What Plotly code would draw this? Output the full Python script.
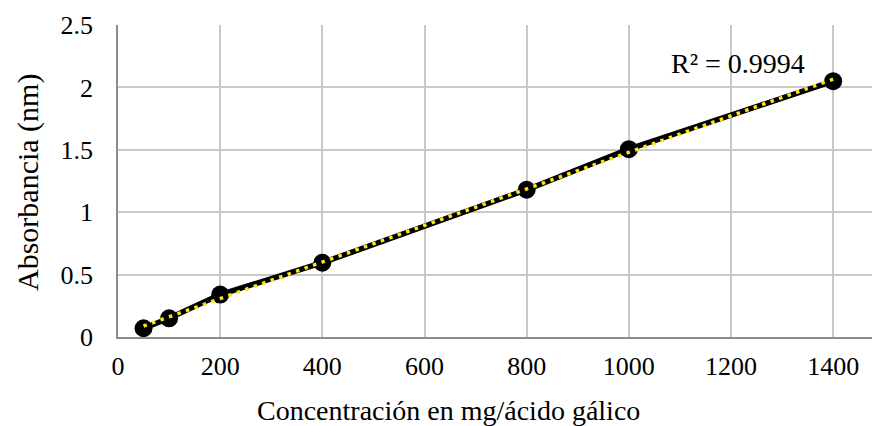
import numpy as np
import plotly.graph_objects as go

concentracion = [50, 100, 200, 400, 800, 1000, 1400]
absorbancia = [0.07, 0.15, 0.34, 0.595, 1.18, 1.505, 2.05]
x_ticks = [0, 200, 400, 600, 800, 1000, 1200, 1400]
y_ticks = [0, 0.5, 1, 1.5, 2, 2.5]
y_tick_text = ["0", "0.5", "1", "1.5", "2", "2.5"]
r2_text = "R² = 0.9994"
x_title = "Concentración en mg/ácido gálico"
y_title = "Absorbancia (nm)"

slope, intercept = np.polyfit(concentracion, absorbancia, 1)
trend_x = [min(concentracion), max(concentracion)]
trend_y = [slope * v + intercept for v in trend_x]

FONT = "Liberation Serif, Times New Roman, serif"

# plot area in pixels: x 118..872, y 25..337
PL, PR, PT, PB = 118, 872, 25, 337

def px_to_paper(px, py):
    return (px - PL) / (PR - PL), (PB - py) / (PB - PT)

fig = go.Figure()
fig.add_trace(go.Scatter(
    x=concentracion, y=absorbancia, mode="lines+markers",
    line=dict(color="black", width=5.5),
    marker=dict(color="black", size=18),
    showlegend=False, cliponaxis=False,
))
fig.add_trace(go.Scatter(
    x=trend_x, y=trend_y, mode="lines",
    line=dict(color="#FFE21A", width=3.5, dash="3.5px,5.5px"),
    showlegend=False, cliponaxis=False,
))

fig.add_annotation(
    x=1214, y=2.195, xref="x", yref="y", text=r2_text, showarrow=False,
    font=dict(family=FONT, size=28, color="black"),
)
xt_x, xt_y = px_to_paper(448, 410)
fig.add_annotation(
    x=xt_x, y=xt_y, xref="paper", yref="paper", text=x_title,
    showarrow=False, xanchor="center", yanchor="middle",
    font=dict(family=FONT, size=28, color="black"),
)
yt_x, yt_y = px_to_paper(28, 183)
fig.add_annotation(
    x=yt_x, y=yt_y, xref="paper", yref="paper", text=y_title,
    showarrow=False, xanchor="center", yanchor="middle", textangle=-90,
    font=dict(family=FONT, size=30, color="black"),
)

fig.update_layout(
    width=872, height=426,
    margin=dict(l=PL, r=872 - PR, t=PT, b=426 - PB),
    paper_bgcolor="white", plot_bgcolor="white",
    font=dict(family=FONT, color="black"),
)
fig.update_xaxes(
    range=[0, 1476], tickvals=x_ticks, ticktext=[str(v) for v in x_ticks],
    showgrid=True, gridcolor="#c9c9c9", gridwidth=1.5,
    showline=True, linecolor="#8c8c8c", linewidth=1.5,
    zeroline=False, ticks="", tickfont=dict(size=26, family=FONT),
    ticklabelstandoff=5,
)
fig.update_yaxes(
    range=[0, 2.5], tickvals=y_ticks, ticktext=y_tick_text,
    showgrid=True, gridcolor="#c9c9c9", gridwidth=1.5,
    showline=True, linecolor="#8c8c8c", linewidth=1.5,
    zeroline=False, ticks="", tickfont=dict(size=26, family=FONT),
    ticklabelstandoff=18,
)

fig.write_html("out.html")
